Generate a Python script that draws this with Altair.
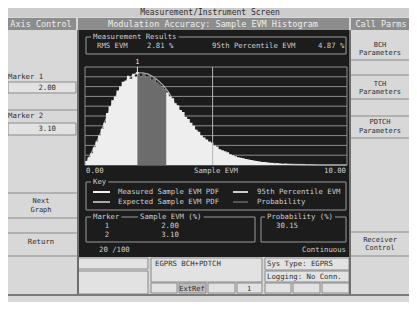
import altair as alt
import pandas as pd

# ---------------- chart data ----------------
bin_width = 0.1
bin_starts = [round(i * bin_width, 1) for i in range(100)]
measured_pdf = [
    0.04, 0.08, 0.12, 0.18, 0.24, 0.30, 0.37, 0.43, 0.53, 0.60,
    0.66, 0.70, 0.76, 0.80, 0.85, 0.86, 0.91, 0.88, 0.93, 0.90,
    0.92, 0.90, 0.93, 0.89, 0.91, 0.87, 0.88, 0.84, 0.82, 0.80,
    0.77, 0.74, 0.70, 0.68, 0.63, 0.61, 0.56, 0.54, 0.49, 0.47,
    0.43, 0.40, 0.36, 0.34, 0.30, 0.28, 0.26, 0.24, 0.23, 0.20,
    0.19, 0.16, 0.15, 0.14, 0.13, 0.11, 0.10, 0.09, 0.08, 0.075,
    0.07, 0.06, 0.055, 0.05, 0.045, 0.04, 0.035, 0.03, 0.03, 0.025,
    0.02, 0.02, 0.015, 0.017, 0.012, 0.01, 0.012, 0.008, 0.008, 0.006,
    0.006, 0.005, 0.004, 0.005, 0.003, 0.003, 0.002, 0.002, 0.0, 0.0,
    0.0, 0.0, 0.0, 0.0, 0.0, 0.0, 0.0, 0.0, 0.0, 0.0,
]
expected_x = [0.0, 0.2, 0.4, 0.6, 0.8, 1.0, 1.2, 1.4, 1.6, 1.8, 2.0, 2.2, 2.4, 2.6,
              2.8, 3.0, 3.2, 3.4, 3.6, 3.8, 4.0, 4.2, 4.4, 4.6, 4.8, 5.0, 5.4, 5.8,
              6.2, 6.6, 7.0, 7.5, 8.0, 9.0, 10.0]
expected_pdf = [0.0, 0.10, 0.21, 0.33, 0.47, 0.60, 0.71, 0.80, 0.87, 0.91, 0.94, 0.94,
                0.93, 0.90, 0.86, 0.81, 0.74, 0.64, 0.56, 0.49, 0.42, 0.36, 0.30, 0.25,
                0.21, 0.17, 0.11, 0.07, 0.045, 0.03, 0.02, 0.01, 0.005, 0.0, 0.0]
markers = [2.00, 3.10]
percentile_95 = 4.87
grid_levels = [0.0, 0.1, 0.2, 0.3, 0.4, 0.5, 0.6, 0.7, 0.8, 0.9, 1.0]
x_domain = [0, 10]

# ---------------- screen layout (page pixels) ----------------
M = 8  # page margin
MONO = "DejaVu Sans Mono"
CW = 4.4  # char width of the small display font

X_SCALE = alt.Scale(domain=x_domain, range=[85 - M, 347 - M], nice=False, zero=False)
Y_SCALE = alt.Scale(domain=[0, 1], range=[165 - M, 67 - M], nice=False, zero=False)

NONE = "transparent"
panel_rects = [
    (7, 3, 411, 17, "#cdcdcd", NONE, 0),
    (7, 18, 76, 30, "#8d8d8d", NONE, 0),
    (78, 18, 349, 30, "#8d8d8d", NONE, 0),
    (351, 18, 411, 30, "#8d8d8d", NONE, 0),
    (78, 30, 349, 257, "#1c1c1c", NONE, 0),
    (8, 82, 76, 93, "#e2e2e2", "#8a8a8a", 1),
    (8, 123, 76, 135, "#e2e2e2", "#8a8a8a", 1),
    (78, 258, 148, 269, "#e2e2e2", "#8a8a8a", 1),
    (78, 271, 148, 294, "#e2e2e2", "#8a8a8a", 1),
    (151, 258, 262, 282, "#e2e2e2", "#8a8a8a", 1),
    (151, 283, 177, 293, "#e2e2e2", "#8a8a8a", 1),
    (179, 283, 206, 293, "#bdbdbd", "#8a8a8a", 1),
    (208, 283, 235, 293, "#e2e2e2", "#8a8a8a", 1),
    (237, 283, 262, 293, "#e2e2e2", "#8a8a8a", 1),
    (265, 283, 291, 293, "#e2e2e2", "#8a8a8a", 1),
    (293, 283, 320, 293, "#e2e2e2", "#8a8a8a", 1),
    (322, 283, 349, 293, "#e2e2e2", "#8a8a8a", 1),
    (265, 258, 349, 270, "#e2e2e2", "#8a8a8a", 1),
    (265, 271, 349, 282, "#e2e2e2", "#8a8a8a", 1),
    (86, 37, 346, 54, NONE, "#9a9a9a", 1),
    (86, 182, 346, 210, NONE, "#9a9a9a", 1),
    (86, 217, 255, 242, NONE, "#9a9a9a", 1),
    (261, 217, 346, 242, NONE, "#9a9a9a", 1),
]
# frame titles sit on the frame line with a black patch behind them
frame_titles = [
    (93, 37, "Measurement Results", "left"),
    (93, 182, "Key", "left"),
    (93, 217, "Marker", "left"),
    (140, 217, "Sample EVM (%)", "left"),
    (300, 217, "Probability (%)", "center"),
]
for tx, ty, tt, al in frame_titles:
    w = len(tt) * CW
    x0 = tx if al == "left" else tx - w / 2
    panel_rects.append((x0 - 2, ty - 4, x0 + w + 2, ty + 4, "#1c1c1c", NONE, 0))

panel_lines = [
    # x1, y1, x2, y2, color, width
    (78, 30, 78, 295, "#6e6e6e", 2),
    (350, 30, 350, 295, "#6e6e6e", 2),
    (7, 110, 77, 110, "#8a8a8a", 1),
    (7, 193, 77, 193, "#8a8a8a", 1),
    (7, 218, 77, 218, "#8a8a8a", 1),
    (7, 233, 77, 233, "#8a8a8a", 1),
    (7, 256, 77, 256, "#8a8a8a", 1),
    (351, 60, 411, 60, "#8a8a8a", 1),
    (351, 75, 411, 75, "#8a8a8a", 1),
    (351, 99, 411, 99, "#8a8a8a", 1),
    (351, 116, 411, 116, "#8a8a8a", 1),
    (351, 138, 411, 138, "#8a8a8a", 1),
    (351, 232, 411, 232, "#8a8a8a", 1),
    (351, 256, 411, 256, "#8a8a8a", 1),
    (7, 295, 411, 295, "#7a7a7a", 2),
    # key samples
    (93, 192, 110, 192, "#f0f0f0", 2),
    (93, 202, 110, 202, "#a8a8a8", 2),
    (233, 192, 248, 192, "#cfcfcf", 2),
    (233, 202, 248, 202, "#8c8c8c", 1),
]

DARK = "#2e2e2e"
LIGHT = "#cfcfcf"
BAR = "#eeeeee"
texts = [
    # x, y, text, align, size, color
    (210, 12.5, "Measurement/Instrument Screen", "center", 8, DARK),
    (41, 24, "Axis Control", "center", 8.5, BAR),
    (213, 24, "Modulation Accuracy: Sample EVM Histogram", "center", 8.5, BAR),
    (381, 24, "Call Parms", "center", 8.5, BAR),
    (97, 45.5, "RMS EVM", "left", 7.3, LIGHT),
    (147, 45.5, "2.81 %", "left", 7.3, LIGHT),
    (212, 45.5, "95th Percentile EVM", "left", 7.3, LIGHT),
    (318, 45.5, "4.87 %", "left", 7.3, LIGHT),
    (86, 170.5, "0.00", "left", 7.3, LIGHT),
    (216, 170.5, "Sample EVM", "center", 7.3, LIGHT),
    (346, 170.5, "10.00", "right", 7.3, LIGHT),
    (118, 192, "Measured Sample EVM PDF", "left", 7.3, LIGHT),
    (118, 202, "Expected Sample EVM PDF", "left", 7.3, LIGHT),
    (257, 192, "95th Percentile EVM", "left", 7.3, LIGHT),
    (257, 202, "Probability", "left", 7.3, LIGHT),
    (107, 226, "1", "center", 7.3, LIGHT),
    (107, 234.5, "2", "center", 7.3, LIGHT),
    (170, 226, f"{markers[0]:.2f}", "center", 7.3, LIGHT),
    (170, 234.5, f"{markers[1]:.2f}", "center", 7.3, LIGHT),
    (287, 226, "30.15", "center", 7.3, LIGHT),
    (99, 250, "20 /100", "left", 7.3, LIGHT),
    (346, 250, "Continuous", "right", 7.3, LIGHT),
    (8, 77, "Marker 1", "left", 7.3, DARK),
    (56, 88, f"{markers[0]:.2f}", "right", 7.3, DARK),
    (8, 116, "Marker 2", "left", 7.3, DARK),
    (56, 129, f"{markers[1]:.2f}", "right", 7.3, DARK),
    (41, 200.5, "Next", "center", 7, DARK),
    (41, 209.5, "Graph", "center", 7, DARK),
    (41, 242, "Return", "center", 7.3, DARK),
    (380, 44.5, "BCH", "center", 7, DARK),
    (380, 53, "Parameters", "center", 7, DARK),
    (380, 83.5, "TCH", "center", 7, DARK),
    (380, 92, "Parameters", "center", 7, DARK),
    (380, 122, "PDTCH", "center", 7, DARK),
    (380, 130.5, "Parameters", "center", 7, DARK),
    (380, 239.5, "Receiver", "center", 7, DARK),
    (380, 248, "Control", "center", 7, DARK),
    (155, 264, "EGPRS BCH+PDTCH", "left", 7.3, DARK),
    (192, 288.5, "ExtRef", "center", 7, DARK),
    (249, 288.5, "1", "center", 7, DARK),
    (267, 264, "Sys Type: EGPRS", "left", 7.3, DARK),
    (267, 276.5, "Logging: No Conn.", "left", 7.3, DARK),
]
texts += [(tx, ty, tt, al, 7.3, LIGHT) for tx, ty, tt, al in frame_titles]

# ---------------- build tables ----------------
rect_df = pd.DataFrame(panel_rects, columns=["x", "y", "x2", "y2", "fill", "stroke", "sw"])
rect_df[["x", "x2"]] -= M
rect_df[["y", "y2"]] -= M
line_df = pd.DataFrame(panel_lines, columns=["x", "y", "x2", "y2", "color", "sw"])
line_df[["x", "x2"]] -= M
line_df[["y", "y2"]] -= M
text_df = pd.DataFrame(texts, columns=["x", "y", "text", "align", "size", "color"])
text_df["x"] -= M
text_df["y"] -= M

# step-area outline of the histogram (each bin start + closing edge)
hist_all = pd.DataFrame({"x": bin_starts + [x_domain[1]], "h": measured_pdf + [measured_pdf[-1]]})
sel = [i for i, lo in enumerate(bin_starts) if markers[0] - 1e-9 <= lo < markers[1] - 1e-9]
hist_sel = pd.DataFrame({
    "x": [bin_starts[i] for i in sel] + [markers[1]],
    "h": [measured_pdf[i] for i in sel] + [measured_pdf[sel[-1]]],
})
exp_df = pd.DataFrame({"x": expected_x, "p": expected_pdf})
grid_df = pd.DataFrame({"level": grid_levels, "a": x_domain[0], "b": x_domain[1]})
border_df = pd.DataFrame({"xv": x_domain, "y0": 0.0, "y1": 1.0})

px = lambda f: alt.X(f, type="quantitative", scale=None, axis=None)
py = lambda f: alt.Y(f, type="quantitative", scale=None, axis=None)

rects = alt.Chart(rect_df).mark_rect().encode(
    x=px("x"), x2="x2", y=py("y"), y2="y2",
    fill=alt.Fill("fill:N", scale=None, legend=None),
    stroke=alt.Stroke("stroke:N", scale=None, legend=None),
    strokeWidth=alt.StrokeWidth("sw:Q", scale=None, legend=None),
)
lines = alt.Chart(line_df).mark_rule().encode(
    x=px("x"), x2="x2", y=py("y"), y2="y2",
    color=alt.Color("color:N", scale=None, legend=None),
    strokeWidth=alt.StrokeWidth("sw:Q", scale=None, legend=None),
)
text_layers = []
for al in ["left", "center", "right"]:
    sub = text_df[text_df["align"] == al]
    text_layers.append(
        alt.Chart(sub).mark_text(align=al, baseline="middle", font=MONO).encode(
            x=px("x"), y=py("y"), text="text:N",
            size=alt.Size("size:Q", scale=None, legend=None),
            color=alt.Color("color:N", scale=None, legend=None),
        )
    )

X = lambda f: alt.X(f, type="quantitative", scale=X_SCALE, axis=None)
Y = lambda f: alt.Y(f, type="quantitative", scale=Y_SCALE, axis=None)

grid = alt.Chart(grid_df).mark_rule(color="#8c8c8c", strokeWidth=1).encode(
    x=X("a"), x2="b", y=Y("level")
)
expected = alt.Chart(exp_df).mark_line(color="#a4a4a4", strokeWidth=1.3).encode(
    x=X("x"), y=Y("p")
)
bars = alt.Chart(hist_all).mark_area(interpolate="step-after", color=BAR, opacity=1).encode(
    x=X("x"), y=Y("h").stack(None), y2=alt.datum(0)
)
shade = alt.Chart(hist_sel).mark_area(interpolate="step-after", color="#6c6c6c", opacity=1).encode(
    x=X("x"), y=Y("h").stack(None), y2=alt.datum(0)
)
borders = alt.Chart(border_df).mark_rule(color="#8c8c8c", strokeWidth=1).encode(
    x=X("xv"), y=Y("y0"), y2="y1"
)
p95 = alt.Chart(pd.DataFrame({"v": [percentile_95], "y0": [0.0], "y1": [1.0]})).mark_rule(
    color="#b4b4b4", strokeWidth=1
).encode(x=X("v"), y=Y("y0"), y2="y1")
mk_df = pd.DataFrame({"v": [markers[0]], "y0": [0.93], "y1": [1.0], "ty": [1.05], "lab": ["1"]})
mk_line = alt.Chart(mk_df).mark_rule(color="#e8e8e8", strokeWidth=1).encode(
    x=X("v"), y=Y("y0"), y2="y1"
)
mk_head = alt.Chart(mk_df).mark_point(
    shape="triangle-down", filled=True, color="#e8e8e8", size=14, opacity=1
).encode(x=X("v"), y=Y("y0"))
mk_text = alt.Chart(mk_df).mark_text(
    font=MONO, fontSize=7, color="#e8e8e8", baseline="middle"
).encode(x=X("v"), y=Y("ty"), text="lab:N")

chart = alt.layer(
    rects, lines, grid, expected, bars, shade, borders, p95, mk_line, mk_head, mk_text, *text_layers
).properties(
    width=401, height=294,
    autosize=alt.AutoSizeParams(type="none"),
    padding=0,
    background="#d8d8d8",
).configure_view(strokeWidth=0)

chart.save("out.html", embed_options={"renderer": "svg", "actions": False})
